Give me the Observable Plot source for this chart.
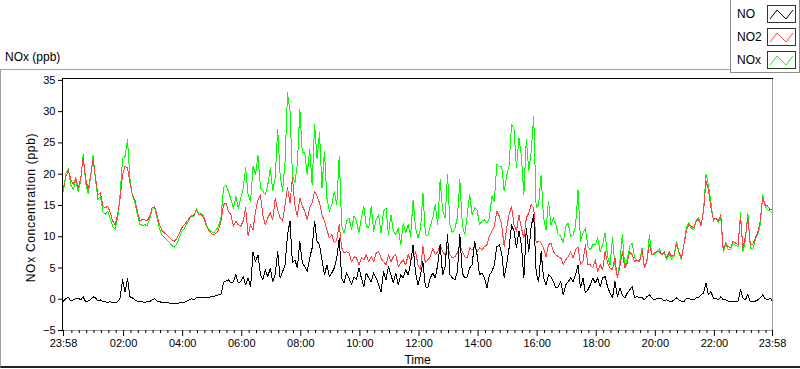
<!DOCTYPE html>
<html><head><meta charset="utf-8">
<script src="https://cdn.jsdelivr.net/npm/d3@7"></script>
<script src="https://cdn.jsdelivr.net/npm/@observablehq/plot@0.6"></script>
<style>
html,body{margin:0;padding:0;background:#fff;}
#wrap{position:relative;width:800px;height:369px;overflow:hidden;font-family:"Liberation Sans",Arial,sans-serif;color:#000;}
#panel{position:absolute;left:0;top:69px;width:820px;height:296px;border-left:1px solid #a0a0a0;border-top:1px solid #a0a0a0;border-bottom:2px solid #222;}
#chart{position:absolute;left:0;top:0;}
#title{position:absolute;left:5px;top:50px;font-size:12px;line-height:14px;}
#legend{position:absolute;left:730px;top:-2px;width:68px;height:73px;border:1px solid #8c8c8c;background:#fff;}
.lg{position:absolute;left:6px;font-size:12px;line-height:14px;}
.sw{position:absolute;left:36px;width:27px;height:16px;border:1px solid #333;background:#fff;}
.sw svg{display:block;}
</style>
</head><body>
<div id="wrap">
  <div id="panel"></div>
  <div id="chart"></div>
  <div id="title">NOx (ppb)</div>
  <div id="legend"></div>
</div>
<script>
// sampling grid: one value every 5 minutes starting 23:58 (minute -2)
const startMinute = -2;
const stepMinutes = 5;

const NO = [
-0.3,0.1,0.3,-0.3,-0.1,0.1,0.2,-0.1,0.4,-0.4,
-0.3,-0.1,0.4,0.2,-0.3,-0.1,-0.4,-0.4,-0.5,-0.4,
-0.5,-0.5,-0.4,0.2,3.1,1.2,3.3,0.4,0.2,-0.1,
-0.3,-0.3,-0.4,-0.5,-0.4,-0.4,-0.1,0.1,-0.3,-0.4,
-0.5,-0.5,-0.6,-0.6,-0.7,-0.6,-0.7,-0.6,-0.5,-0.5,
-0.3,-0.1,0.1,-0.1,0.3,0.2,0.2,0.2,0.3,0.3,
0.4,0.4,0.6,0.7,0.8,2.7,2.9,3.1,2.6,2.8,
3.9,2.6,
2.8,3.6,2.3,3.4,2.0,7.6,6.0,7.1,
3.9,3.1,4.7,3.6,5.0,2.8,3.9,7.6,3.4,4.4,
5.5,10.3,12.5,5.8,6.3,5.0,9.3,5.8,5.2,4.4,
6.6,8.2,12.5,9.3,8.7,6.3,3.9,5.5,3.6,4.2,
5.0,6.6,9.8,3.4,2.6,4.2,3.4,2.3,3.6,3.1,
5.0,3.4,2.0,4.2,3.4,2.8,4.2,3.4,2.3,1.2,
4.4,3.1,5.2,3.9,2.6,4.2,2.3,3.9,3.4,4.7,
3.9,5.8,8.7,4.2,
2.3,3.9,6.0,2.0,1.8,3.4,
4.2,3.4,5.5,8.7,3.9,5.2,10.3,3.9,3.4,3.1,
4.4,10.3,4.2,3.4,3.6,5.0,5.5,9.3,7.1,3.9,
4.2,3.4,1.8,3.9,4.4,5.5,8.4,8.7,7.4,3.4,
5.5,8.2,11.9,10.9,8.2,10.9,8.7,3.4,11.4,7.6,
11.7,13.5,4.2,2.8,7.6,3.4,2.3,3.9,3.6,2.8,
1.8,2.0,2.8,0.7,2.3,2.8,3.4,2.8,3.9,5.5,
1.8,3.4,1.0,1.5,2.3,3.4,
2.6,3.4,2.0,3.4,
3.6,2.0,1.0,0.2,2.8,0.4,1.8,0.7,0.2,1.0,
1.5,2.0,0.3,0.4,0.2,0.3,-0.1,0.4,0.7,0.2,
-0.1,0.1,0.2,0.1,-0.3,-0.1,-0.3,-0.4,-0.1,0.2,
-0.1,-0.3,-0.4,0.1,0.2,-0.1,-0.1,0.2,0.3,0.7,
1.0,2.6,0.7,1.2,0.2,0.1,-0.1,0.4,-0.1,-0.1,
-0.3,-0.4,-0.3,-0.4,-0.3,1.5,0.2,-0.1,0.8,-0.4,
-0.3,-0.3,-0.1,0.2,0.7,0.1,-0.1,0.2,-0.3
];

const NO2 = [
17.8,19.7,20.6,19.1,18.4,19.4,17.8,19.4,22.6,19.4,
17.5,19.7,22.4,19.4,16.7,17.0,14.9,14.6,14.9,13.8,
12.5,11.9,13.5,16.2,19.9,21.3,21.0,18.6,16.7,15.9,
14.1,12.6,12.7,12.7,12.5,13.3,14.6,14.8,13.5,11.9,
11.0,10.6,10.3,9.9,9.5,9.3,9.7,10.5,11.4,11.9,
12.4,12.9,13.3,13.5,14.3,13.5,13.5,13.0,11.8,11.0,
10.5,10.3,10.6,11.1,12.5,15.1,15.4,14.1,13.5,11.7,
12.5,11.9,
11.7,12.5,14.6,10.1,11.9,11.1,14.1,15.9,
16.7,13.3,11.9,13.0,13.8,12.7,16.2,14.3,13.0,12.5,
15.1,17.8,15.4,19.4,14.9,13.3,16.2,14.9,14.1,12.7,
14.6,15.4,17.3,16.5,15.4,13.5,12.5,11.1,9.8,10.3,
9.0,9.5,11.9,8.2,7.4,7.6,7.4,6.0,6.8,6.6,
5.5,6.6,6.3,7.1,6.0,6.8,6.0,7.4,7.6,6.6,
6.0,5.5,7.1,6.0,6.8,7.1,5.2,5.8,6.3,5.5,
7.1,6.3,6.8,7.6,
5.5,4.7,8.4,5.8,6.3,6.8,
8.2,7.1,7.6,8.7,7.6,7.1,8.4,7.1,6.6,6.8,
7.4,8.7,7.6,6.8,6.6,8.2,7.9,8.4,7.6,8.2,
7.9,8.4,8.7,10.1,10.9,11.7,14.1,13.3,11.9,8.4,
11.4,13.5,14.9,11.9,10.9,13.5,11.4,9.8,13.0,13.8,
15.1,14.6,9.0,9.3,9.0,8.2,6.8,8.7,9.0,7.6,
7.1,6.8,6.6,5.5,6.3,6.8,7.6,6.6,7.9,8.4,
5.5,6.0,8.7,5.5,5.5,5.0,
6.3,4.4,5.5,4.7,
7.6,5.8,5.0,4.7,6.6,3.4,5.2,7.6,5.0,5.8,
7.6,7.1,6.0,6.3,6.0,7.9,5.0,6.3,8.7,7.1,
7.4,7.6,7.6,7.1,7.6,6.6,7.6,6.8,7.1,8.7,
7.6,6.6,8.7,10.9,11.9,11.7,11.4,12.5,12.7,11.9,
14.1,18.9,17.5,14.6,12.7,13.0,12.5,13.5,7.9,9.0,
8.4,8.2,9.3,9.0,8.7,13.0,8.2,10.1,13.0,8.7,
8.7,9.8,10.6,12.5,16.2,15.1,14.9,14.3,14.3
];

const NOx = [
17.3,20.2,20.9,18.2,17.6,19.0,17.2,19.0,23.2,18.6,
16.9,19.4,23.0,19.0,15.9,16.5,14.0,13.6,14.1,12.9,
11.6,11.2,13.0,16.8,22.5,22.8,25.5,19.2,16.6,15.5,
13.5,12.0,11.8,11.9,11.8,12.8,14.3,14.7,13.0,11.2,
10.3,9.9,9.5,9.1,8.6,8.3,8.9,9.8,10.8,11.3,
12.0,12.7,13.3,13.3,14.5,13.6,13.7,13.2,12.0,11.2,
10.8,10.6,11.1,11.7,13.2,17.8,18.3,17.2,16.0,14.5,
16.4,14.5,
16.2,17.8,21.0,16.7,15.7,21.3,19.9,23.0,
17.8,17.3,16.7,18.3,21.0,17.3,19.4,27.2,19.9,17.3,
22.1,33.0,30.1,19.9,18.6,21.6,30.4,23.4,23.4,19.9,
24.0,18.3,28.0,22.4,26.6,17.8,23.7,16.2,14.1,15.1,
17.3,15.1,22.9,11.7,10.6,12.5,13.0,11.1,13.3,12.5,
10.6,13.0,14.9,11.7,11.4,14.9,10.9,12.7,13.5,10.6,
14.1,14.6,10.3,13.5,10.9,10.3,11.4,8.7,12.2,10.6,
11.9,10.1,15.9,11.4,
9.8,11.1,17.0,10.3,10.1,11.7,
13.0,15.1,11.9,19.1,14.1,13.0,19.9,11.9,10.6,11.4,
13.0,19.1,11.9,10.3,13.5,16.7,13.5,14.6,14.3,11.9,
12.5,12.7,12.2,13.0,16.5,15.7,21.6,21.3,21.3,17.3,
19.7,21.3,28.0,27.2,21.0,25.8,22.9,16.7,25.6,20.5,
23.7,29.3,14.6,15.1,19.9,13.0,11.1,15.7,11.9,13.0,
11.9,10.3,10.1,9.0,11.7,12.2,10.1,10.3,11.7,17.5,
9.3,10.6,11.4,8.4,7.9,8.7,
8.7,9.8,7.6,8.7,
10.6,6.8,5.5,9.8,5.5,3.4,6.0,10.3,5.2,6.4,
8.4,9.0,6.6,6.3,6.0,8.2,5.0,6.0,10.3,7.1,
7.2,7.6,8.1,7.1,7.4,6.3,7.2,6.4,6.8,9.3,
7.5,6.3,8.7,11.4,12.2,11.4,11.1,12.6,13.1,11.7,
14.3,20.0,18.3,15.4,12.5,13.0,12.3,13.0,7.6,8.7,
8.0,7.9,9.0,8.6,8.4,13.8,7.6,9.5,13.8,8.2,
7.9,9.5,10.3,11.9,16.7,14.9,14.3,14.1,13.8
];

const seriesNames = ["NO", "NO2", "NOx"];
const seriesColors = ["#000000", "#ff4040", "#00ff00"];

const xMajorTicks = [-2, 120, 240, 360, 480, 600, 720, 840, 960, 1080, 1200, 1320, 1438];
const xMajorLabels = ["23:58","02:00","04:00","06:00","08:00","10:00","12:00","14:00","16:00","18:00","20:00","22:00","23:58"];
const xMinorTicks = d3.range(0, 1440, 15).filter(m => m % 120 !== 0);
const yTicks = [-5, 0, 5, 10, 15, 20, 25, 30, 35];
const yLabel = "NOx Concentration (ppb)";
const xLabel = "Time";

const times = NO.map((_, i) => startMinute + i * stepMinutes);
const rows = (vals) => vals.map((v, i) => ({t: times[i], v}));
const labelOf = new Map(xMajorTicks.map((m, i) => [m, xMajorLabels[i]]));

const chart = Plot.plot({
  width: 800, height: 369,
  marginTop: 78, marginBottom: 39, marginLeft: 62, marginRight: 28,
  style: {fontFamily: "Liberation Sans, Arial, sans-serif", fontSize: "11px", color: "#000", background: "transparent", overflow: "visible"},
  x: {domain: [-2, 1438], range: [63, 772]},
  y: {domain: [-5, 35.3]},
  marks: [
    Plot.lineY(rows(NOx), {x: "t", y: "v", stroke: seriesColors[2], strokeWidth: 1, shapeRendering: "crispEdges"}),
    Plot.lineY(rows(NO2), {x: "t", y: "v", stroke: seriesColors[1], strokeWidth: 1, shapeRendering: "crispEdges"}),
    Plot.lineY(rows(NO), {x: "t", y: "v", stroke: seriesColors[0], strokeWidth: 1, shapeRendering: "crispEdges"}),
    Plot.frame({stroke: "#a0a0a0"}),
    Plot.frame({anchor: "top", stroke: "#000"}),
    Plot.frame({anchor: "left", stroke: "#000"}),
    Plot.axisY(yTicks, {tickSize: 4, tickPadding: 3, label: null}),
    Plot.axisX(xMajorTicks, {tickSize: 6, tickPadding: 3, tickFormat: d => labelOf.get(d), label: null}),
    Plot.axisX(xMinorTicks, {tickSize: 3, fill: "none", label: null}),
    Plot.text([yLabel], {frameAnchor: "left", textAnchor: "middle", dx: -31, dy: 3, rotate: -90, fontSize: 12}),
    Plot.text([xLabel], {frameAnchor: "bottom", textAnchor: "middle", dy: 33, fontSize: 12})
  ]
});
document.getElementById("chart").append(chart);
// widen the letter spacing of the rotated axis title to match the original
d3.select(chart).selectAll("text").filter(function() { return this.textContent === yLabel; })
  .attr("letter-spacing", "0.7px");

// legend
const legend = document.getElementById("legend");
const centers = [14.5, 37.5, 60.5];
seriesNames.forEach((name, i) => {
  const lab = document.createElement("div");
  lab.className = "lg";
  lab.textContent = name;
  lab.style.top = (centers[i] - 7) + "px";
  legend.append(lab);
  const sw = document.createElement("div");
  sw.className = "sw";
  sw.style.top = (centers[i] - 9) + "px";
  sw.innerHTML = `<svg width="27" height="16"><polyline points="2,13 9,4 18,13 25,4" fill="none" stroke="${seriesColors[i]}" stroke-width="1"/></svg>`;
  legend.append(sw);
});
</script>
</body></html>
